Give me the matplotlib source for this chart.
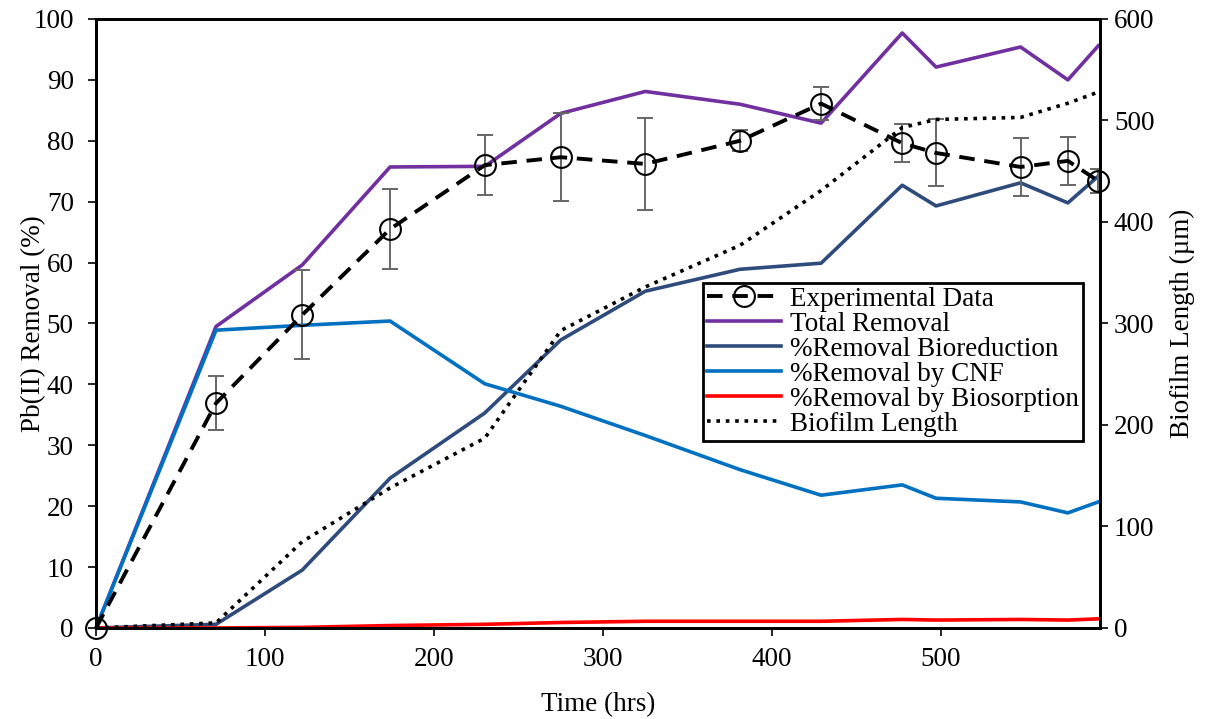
import numpy as np
import matplotlib.pyplot as plt

plt.rcParams['font.family'] = ['Liberation Serif', 'DejaVu Serif']

# experimental Pb(II) removal
t_exp = [0, 71, 122, 174, 230, 275, 325, 381, 429, 477, 497, 547, 575, 593]
exp_removal = [0, 36.9, 51.4, 65.5, 76.0, 77.3, 76.2, 80.0, 86.1, 79.6, 78.0, 75.7, 76.7, 73.4]
exp_err = [0, 4.4, 7.3, 6.5, 4.9, 7.2, 7.6, 1.7, 2.7, 3.1, 5.5, 4.8, 4.0, 2.0]

# model curves (same time points)
t_mod = [0, 71, 122, 174, 230, 275, 325, 381, 429, 477, 497, 547, 575, 593]
total_removal = [0, 49.5, 59.6, 75.7, 75.8, 84.5, 88.1, 86.0, 82.9, 97.7, 92.1, 95.4, 90.0, 95.6]
bioreduction = [0, 0.6, 9.5, 24.6, 35.3, 47.3, 55.3, 58.9, 59.9, 72.7, 69.3, 73.1, 69.8, 74.2]
cnf_removal = [0, 48.9, 49.7, 50.4, 40.1, 36.4, 31.6, 26.0, 21.8, 23.5, 21.3, 20.7, 18.9, 20.7]
biosorption = [0, 0, 0.1, 0.4, 0.6, 0.9, 1.1, 1.1, 1.1, 1.4, 1.3, 1.4, 1.3, 1.5]
biofilm_len = [0, 5, 85, 138, 187, 293, 336, 377, 431, 493, 501, 503, 517, 528]

fig = plt.figure(figsize=(12.06, 7.19), dpi=100)
ax = fig.add_axes([0.0796, 0.1266, 0.8325, 0.847])
ax2 = ax.twinx()

lw = 2.6
l_exp, = ax.plot(t_exp, exp_removal, color='black', linestyle=(0, (4, 2.5)), linewidth=2.8,
                 marker='o', markersize=15, markerfacecolor='none', markeredgewidth=1.5,
                 label='Experimental Data', zorder=5, clip_on=False)
ax.errorbar(t_exp, exp_removal, yerr=exp_err, fmt='none', ecolor='#666666',
            elinewidth=1.4, capsize=6, capthick=1.4, zorder=4)
l_tot, = ax.plot(t_mod, total_removal, color='#7030A0', linewidth=lw, label='Total Removal')
l_bio, = ax.plot(t_mod, bioreduction, color='#2F4B7C', linewidth=lw, label='%Removal Bioreduction')
l_cnf, = ax.plot(t_mod, cnf_removal, color='#0070C0', linewidth=lw, label='%Removal by CNF')
l_sor, = ax.plot(t_mod, biosorption, color='#FF0000', linewidth=lw, label='%Removal by Biosorption')
l_len, = ax2.plot(t_mod, biofilm_len, color='black', linestyle=(0, (1, 1.6)), linewidth=2.6,
                  label='Biofilm Length')

ax.set_xlim(0, 594)
ax.set_ylim(0, 100)
ax2.set_ylim(0, 600)
ax.set_xticks(np.arange(0, 501, 100))
ax.set_yticks(np.arange(0, 101, 10))
ax2.set_yticks(np.arange(0, 601, 100))

fs = 19.5
ax.set_xlabel('Time (hrs)', fontsize=fs, labelpad=14)
ax.set_ylabel('Pb(II) Removal (%)', fontsize=fs, labelpad=-9)
ax2.set_ylabel('Biofilm Length (\u00b5m)', fontsize=fs, labelpad=11)

for a in (ax, ax2):
    a.tick_params(labelsize=fs, direction='out', length=6, width=1.2)
    for s in a.spines.values():
        s.set_linewidth(2)
ax.tick_params(axis='y', pad=10)
ax.tick_params(axis='x', pad=8)
ax2.tick_params(axis='y', pad=4)

leg = ax2.legend(handles=[l_exp, l_tot, l_bio, l_cnf, l_sor, l_len], loc='upper left',
                 bbox_to_anchor=(0.605, 0.567), borderaxespad=0, fontsize=fs,
                 fancybox=False, edgecolor='black', framealpha=1, labelspacing=0.0,
                 handlelength=2.7, handletextpad=0.35, borderpad=0.15)
leg.get_frame().set_linewidth(2)

fig.savefig('out.png', dpi=100)
